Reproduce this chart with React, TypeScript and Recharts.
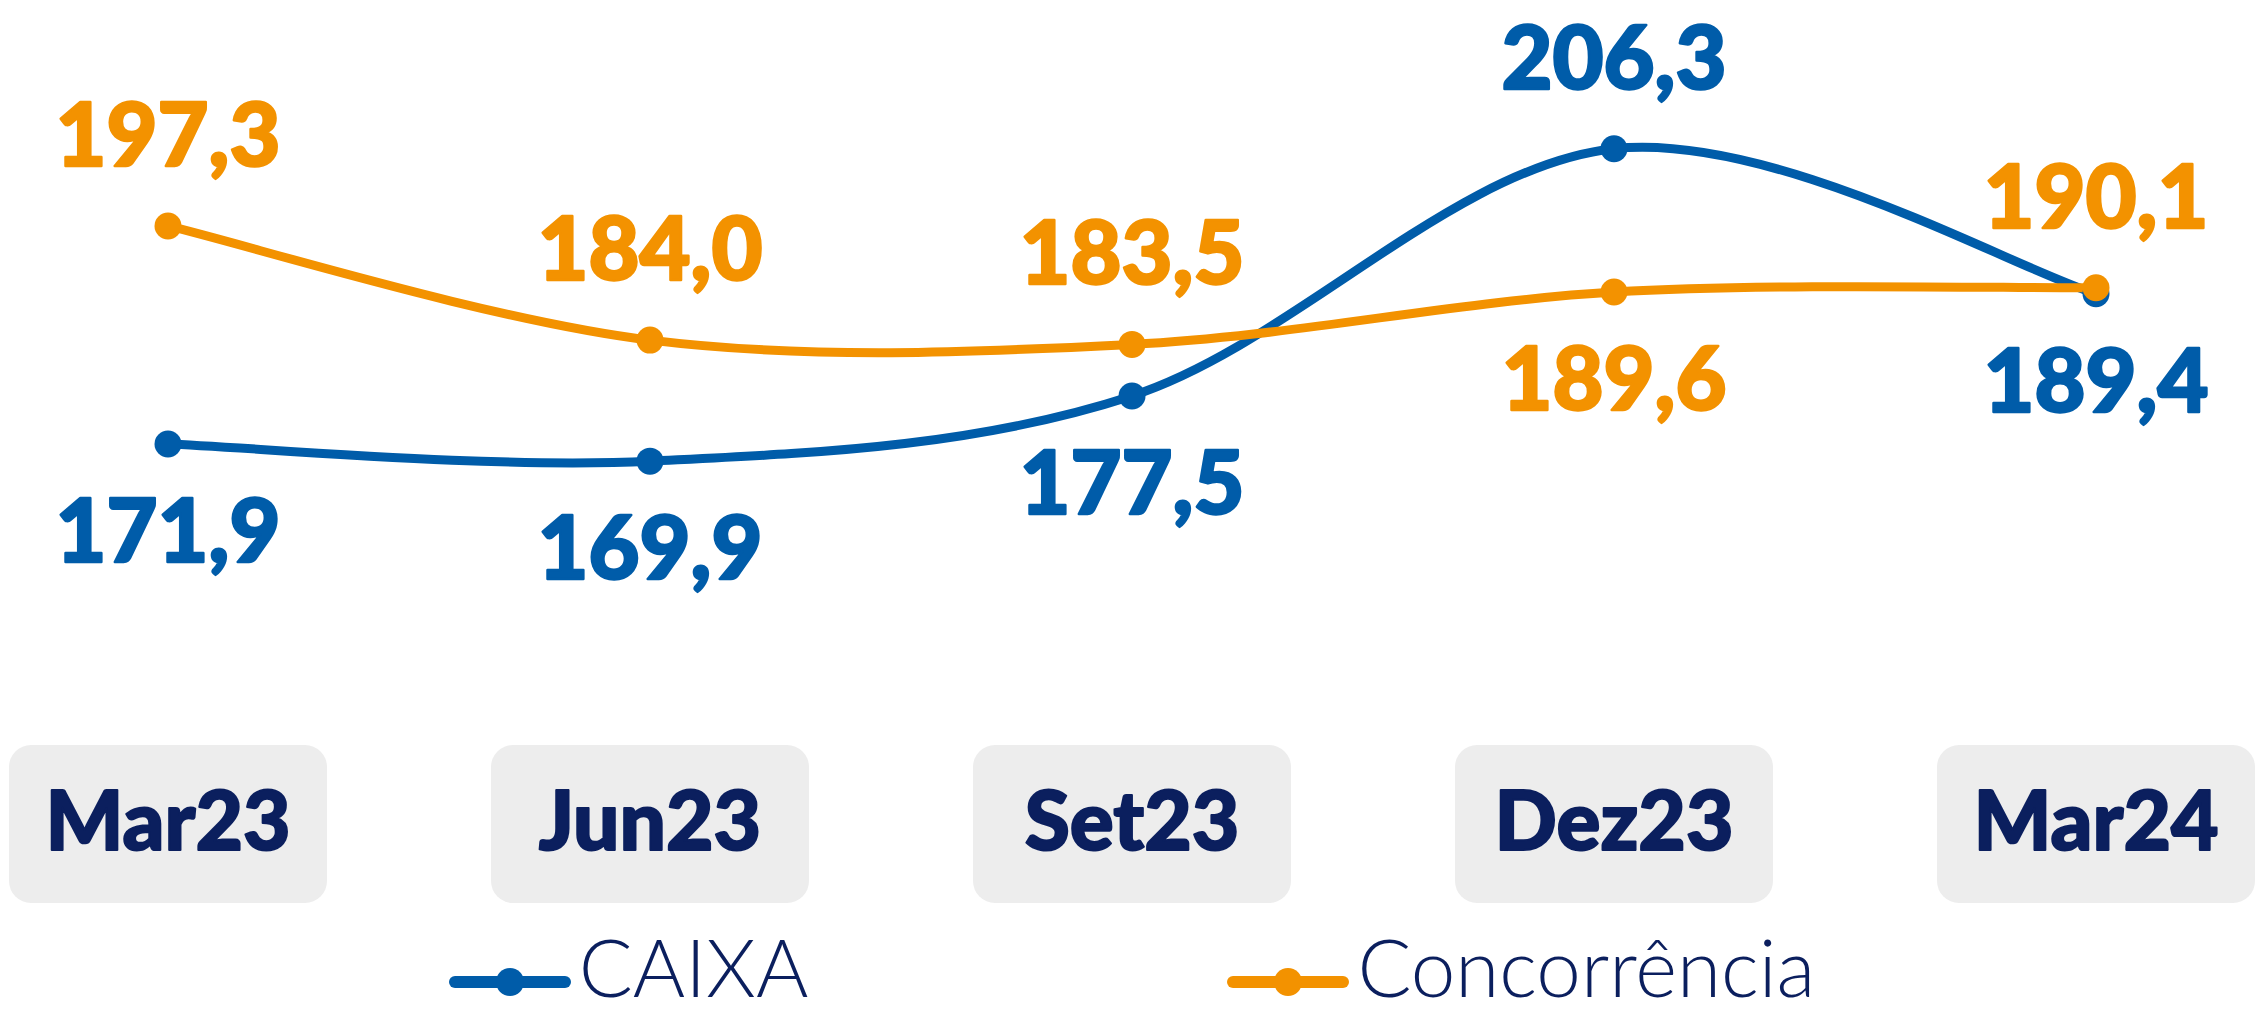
import React from "react";
import { LabelList, Legend, Line, LineChart, XAxis, YAxis } from "recharts";

const periods = ["Mar23", "Jun23", "Set23", "Dez23", "Mar24"];
const caixaValues = [171.9, 169.9, 177.5, 206.3, 189.4];
const concorrenciaValues = [197.3, 184.0, 183.5, 189.6, 190.1];

const BLUE = "#005CA9";
const ORANGE = "#F39200";
const NAVY = "#0B1F5E";
const BOX = "#EDEDED";
const BOLD_FONT = "Lato, 'Open Sans', sans-serif";

const data = periods.map((periodo, i) => ({
  periodo,
  caixa: caixaValues[i],
  concorrencia: concorrenciaValues[i],
}));

// Excel-like smoothing (cardinal spline, tension 0)
function smoothCurve(context: any) {
  let pts: number[][] = [];
  return {
    areaStart() {},
    areaEnd() {},
    lineStart() {
      pts = [];
    },
    point(x: number, y: number) {
      pts.push([+x, +y]);
    },
    lineEnd() {
      if (!pts.length) return;
      context.moveTo(pts[0][0], pts[0][1]);
      for (let i = 0; i < pts.length - 1; i++) {
        const p0 = pts[Math.max(i - 1, 0)];
        const p1 = pts[i];
        const p2 = pts[i + 1];
        const p3 = pts[Math.min(i + 2, pts.length - 1)];
        context.bezierCurveTo(
          p1[0] + (p2[0] - p0[0]) / 6,
          p1[1] + (p2[1] - p0[1]) / 6,
          p2[0] - (p3[0] - p1[0]) / 6,
          p2[1] - (p3[1] - p1[1]) / 6,
          p2[0],
          p2[1]
        );
      }
    },
  };
}

const fmt = (v: number) => v.toFixed(1).replace(".", ",");

// label goes on the side away from the other series
function makeValueLabel(own: number[], other: number[], color: string) {
  return (props: any) => {
    const x = props.x ?? props.viewBox?.x;
    const y = props.y ?? props.viewBox?.y;
    const idx = props.index ?? own.indexOf(Number(props.value));
    if (x == null || y == null || idx < 0) return null;
    const above = own[idx] >= other[idx];
    return (
      <text
        x={x}
        y={above ? y - 60 : y + 118}
        textAnchor="middle"
        fill={color}
        stroke={color}
        strokeWidth={2.5}
        strokeLinejoin="round"
        fontFamily={BOLD_FONT}
        fontWeight={900}
        fontSize={88}
      >
        {fmt(own[idx])}
      </text>
    );
  };
}

const CategoryTick = (props: any) => {
  const { x, y, payload } = props;
  return (
    <g>
      <rect x={x - 159} y={y + 113} width={318} height={158} rx={22} ry={22} fill={BOX} />
      <text
        x={x}
        y={y + 218}
        textAnchor="middle"
        fill={NAVY}
        stroke={NAVY}
        strokeWidth={2}
        strokeLinejoin="round"
        fontFamily={BOLD_FONT}
        fontWeight={900}
        fontSize={82}
      >
        {payload.value}
      </text>
    </g>
  );
};

function renderLegend(props: any) {
  const items = props.payload ?? [];
  return (
    <div
      style={{
        height: 100,
        boxSizing: "border-box",
        paddingTop: 12,
        display: "flex",
        justifyContent: "center",
        gap: 419,
      }}
    >
      {items.map((item: any) => (
        <div key={item.value} style={{ display: "flex", alignItems: "center", height: 80 }}>
          <svg width={122} height={30} style={{ position: "relative", top: 16 }}>
            <line x1={6} y1={15} x2={116} y2={15} stroke={item.color} strokeWidth={12} strokeLinecap="round" />
            <circle cx={61} cy={15} r={14} fill={item.color} />
          </svg>
          <span
            style={{
              marginLeft: 8,
              fontFamily: "Lato, 'Open Sans', sans-serif",
              fontWeight: 300,
              fontSize: 80,
              lineHeight: "80px",
              color: NAVY,
            }}
          >
            {item.value}
          </span>
        </div>
      ))}
    </div>
  );
}

export default function App() {
  return (
    <>
      <style>{"body{margin:0;background:#fff}"}</style>
      <LineChart
        width={2260}
        height={1014}
        data={data}
        margin={{ top: 74, right: 164, bottom: 0, left: 168 }}
      >
        <XAxis
          dataKey="periodo"
          axisLine={false}
          tickLine={false}
          tickSize={0}
          tickMargin={0}
          interval={0}
          height={282}
          tick={<CategoryTick />}
        />
        <YAxis hide domain={[150, 215]} />
        <Legend verticalAlign="bottom" height={100} content={renderLegend} />
        <Line
          type={smoothCurve as any}
          dataKey="caixa"
          name="CAIXA"
          stroke={BLUE}
          strokeWidth={9}
          dot={{ r: 13.5, fill: BLUE, stroke: BLUE, strokeWidth: 0 }}
          activeDot={false}
          isAnimationActive={false}
        >
          <LabelList dataKey="caixa" content={makeValueLabel(caixaValues, concorrenciaValues, BLUE)} />
        </Line>
        <Line
          type={smoothCurve as any}
          dataKey="concorrencia"
          name="Concorrência"
          stroke={ORANGE}
          strokeWidth={9}
          dot={{ r: 13.5, fill: ORANGE, stroke: ORANGE, strokeWidth: 0 }}
          activeDot={false}
          isAnimationActive={false}
        >
          <LabelList
            dataKey="concorrencia"
            content={makeValueLabel(concorrenciaValues, caixaValues, ORANGE)}
          />
        </Line>
      </LineChart>
    </>
  );
}
